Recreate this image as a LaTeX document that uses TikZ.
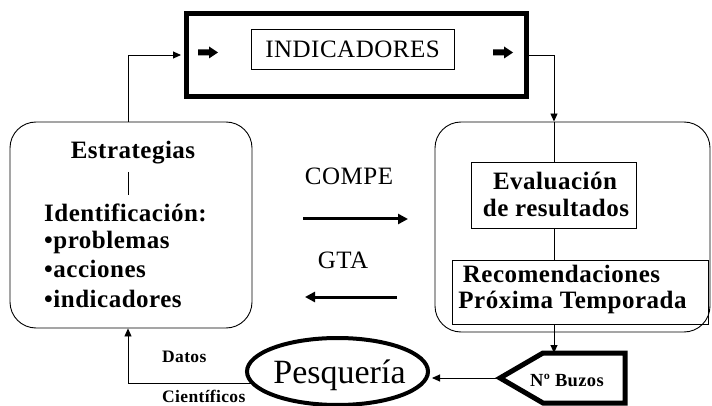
\documentclass[tikz,border=0pt]{standalone}
\usepackage{fontspec}
\setmainfont{Liberation Serif}[LetterSpace=2]
\newfontfamily\plainserif{Liberation Serif}
\usetikzlibrary{arrows.meta,calc,shapes.geometric}
\begin{document}
\begin{tikzpicture}[x=1pt,y=-1pt,
  thinline/.style={line width=0.9pt},
  arr/.style={thinline,-{Triangle[length=8pt,width=7pt]}},
  bigarr/.style={line width=3pt,-{Triangle[length=10pt,width=10pt]}},
  txt/.style={inner sep=0pt,font=\fontsize{25}{28}\selectfont},
  btxt/.style={inner sep=0pt,font=\fontsize{25}{28}\selectfont\bfseries},
  stxt/.style={inner sep=0pt,font=\fontsize{17.5}{20}\selectfont\bfseries},
  roundbox/.style={draw,thinline,rounded corners=26pt,inner sep=0pt},
  plainbox/.style={draw,thinline,inner sep=0pt},
  blockarrow/.style={fill=black},
]
\useasboundingbox (0,0) rectangle (712,406);

% top thick box
\node[draw,line width=5pt,minimum width=340pt,minimum height=83pt,inner sep=0pt] (T) at (356,55) {};
\node[plainbox,txt,minimum width=203pt,minimum height=40pt] (I) at (352.5,49) {INDICADORES};
\fill[blockarrow] (198,49.5) -- (209,49.5) -- (209,46.5) -- (218,52.5) -- (209,58.5) -- (209,55.5) -- (198,55.5) -- cycle;
\fill[blockarrow] (493,49.5) -- (504,49.5) -- (504,46.5) -- (513,52.5) -- (504,58.5) -- (504,55.5) -- (493,55.5) -- cycle;

% left rounded box
\node[roundbox,minimum width=242pt,minimum height=206pt] (L) at (131,225) {};
\node[btxt,anchor=base] (estr) at (133,159) {Estrategias};
\node[btxt,anchor=base west] (ident) at (44,222) {Identificación:};
\node[btxt,anchor=base west] (prob) at (44,248) {•problemas};
\node[btxt,anchor=base west] (acc) at (44,277) {•acciones};
\node[btxt,anchor=base west] (indic) at (44,307) {•indicadores};
\draw[thinline] (128,172) coordinate (s1) -- (128,195) coordinate (s2);

% right rounded box
\node[roundbox,minimum width=275pt,minimum height=210pt] (R) at (572.5,227) {};
\node[plainbox,minimum width=165pt,minimum height=66pt] (E) at (554,195) {};
\node[btxt,anchor=base] (ev1) at (555,190) {Evaluación};
\node[btxt,anchor=base] (ev2) at (556,217) {de resultados};
\node[plainbox,minimum width=256pt,minimum height=64pt] (Rec) at (580,292) {};
\node[btxt,anchor=base] (rec1) at (561.5,282) {Recomendaciones};
\node[btxt,anchor=base] (rec2) at (572.5,308) {Próxima Temporada};

% middle arrows
\node[txt,anchor=base] (compe) at (349,185) {COMPE};
\node[txt,anchor=base] (gta) at (343,269) {GTA};
\coordinate (c1) at (303,219);
\coordinate (c2) at (408,219);
\coordinate (g1) at (397,297);
\coordinate (g2) at (305,297);
\draw[bigarr] (c1) -- (c2);
\draw[bigarr] (g1) -- (g2);

% Pesqueria ellipse
\node[ellipse,draw,line width=4pt,minimum width=181pt,minimum height=67pt,inner sep=0pt] (P) at (337.5,371.5) {};
\node[inner sep=0pt,anchor=base,font=\plainserif\fontsize{34}{38}\selectfont] (ptxt) at (339.5,383) {Pesquería};

% N Buzos
\coordinate (bL) at (500,378);
\coordinate (bT) at (554,353);
\draw[line width=5pt,line join=miter] (bL) -- (543,353) -- (625,353) -- (625,403) -- (543,403) -- cycle;
\node[inner sep=0pt,anchor=base,font=\fontsize{18.5}{20}\selectfont\bfseries] (buz) at (567,386) {Nº Buzos};

\node[stxt,anchor=base west] (datos) at (162,362) {Datos};
\node[stxt,anchor=base west] (cient) at (162,402) {Científicos};

% connectors
\draw[arr,shorten >=2.5pt] ([xshift=-3pt]L.north) |- (T.west);
\coordinate (rtop) at (R.north -| E.north);
\draw[arr] (T.east) -| (rtop);
\draw[thinline] (rtop) -- (E.north);
\draw[thinline] (E.south) -- (E.south |- Rec.north);
\draw[arr] (E.south |- Rec.south) -- (bT);
\draw[arr,shorten >=2pt] (bL) -- (P.east |- bL);
\coordinate (pw) at ($(P.center)+(-86,11.5)$);
\draw[arr] (pw) -| ([xshift=-3pt]L.south);
\end{tikzpicture}
\end{document}
